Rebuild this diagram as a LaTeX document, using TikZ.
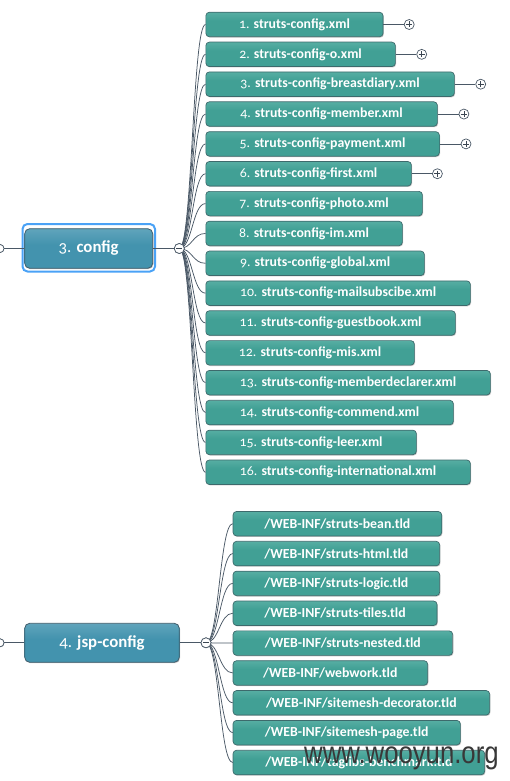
\documentclass[tikz,border=0pt]{standalone}
\usepackage{fontspec}
\setmainfont{Carlito}[Numbers=OldStyle]
\newfontfamily\wmfont{Liberation Sans}
\usetikzlibrary{shadows}
\definecolor{leafD}{HTML}{41A095}
\definecolor{leafM}{HTML}{62B5AA}
\definecolor{leafL}{HTML}{9AD4CB}
\definecolor{leafB}{HTML}{3D6A6C}
\definecolor{mainD}{HTML}{4393AE}
\definecolor{mainM}{HTML}{6AAAC0}
\definecolor{mainL}{HTML}{A4CDDB}
\definecolor{mainB}{HTML}{405C6A}
\definecolor{connC}{HTML}{4A5866}
\definecolor{hlC}{HTML}{4AA2F6}
\definecolor{wmgray}{HTML}{383838}
\pgfdeclareverticalshading{leafsh}{100bp}{color(0bp)=(leafD); color(58bp)=(leafD); color(84bp)=(leafM); color(100bp)=(leafL)}
\pgfdeclareverticalshading{mainsh}{100bp}{color(0bp)=(mainD); color(55bp)=(mainD); color(82bp)=(mainM); color(100bp)=(mainL)}
\begin{document}
\begin{tikzpicture}[x=1pt,y=-1pt,
  leaf/.style={draw=leafB, line width=0.7pt, rounded corners=3.5pt, shade, shading=leafsh,
    text=white, font=\fontsize{13.8}{15}\selectfont, minimum height=24.5pt, inner sep=0pt, anchor=west,
    drop shadow={shadow xshift=0.8pt, shadow yshift=-0.9pt, fill=black, opacity=0.22}},
  mainbox/.style={draw=mainB, line width=0.8pt, rounded corners=5pt, shade, shading=mainsh,
    text=white, font=\fontsize{16.8}{18}\selectfont, inner sep=0pt,
    drop shadow={shadow xshift=0.8pt, shadow yshift=-0.9pt, fill=black, opacity=0.22}},
  conn/.style={draw=connC, line width=0.75pt},
  pm/.style={circle, draw=connC, fill=white, line width=0.7pt, minimum size=10pt, inner sep=0pt},
  plusnode/.style={pm, path picture={
    \draw[connC!80!black, line width=0.8pt] ([xshift=2pt]path picture bounding box.west) -- ([xshift=-2pt]path picture bounding box.east);
    \draw[connC!80!black, line width=0.8pt] ([yshift=-2pt]path picture bounding box.north) -- ([yshift=2pt]path picture bounding box.south);}},
  minusnode/.style={pm, path picture={
    \draw[connC!80!black, line width=0.8pt] ([xshift=2pt]path picture bounding box.west) -- ([xshift=-2pt]path picture bounding box.east);}},
  endnode/.style={circle, draw=connC, fill=white, line width=0.7pt, minimum size=8pt, inner sep=0pt},
  fan/.style={conn}
]
\useasboundingbox (0,0) rectangle (510,781);

% ---------- config branch ----------
\draw[hlC, line width=2pt, rounded corners=5pt] (22.5,224) rectangle (155,271.5);
\node[mainbox, minimum width=128pt, minimum height=39.6pt] (cfg) at (88.7,248.5) {3. \textbf{config}};
\node[endnode] (lcfg) at (0,248.5) {};
\node[minusnode] (mcfg) at (179.3,248.5) {};

\node[leaf, minimum width=177.2pt] (c1)  at (205.5,24.50)  {1. \textbf{struts-config.xml}};
\node[leaf, minimum width=189.5pt] (c2)  at (205.5,54.35)  {2. \textbf{struts-config-o.xml}};
\node[leaf, minimum width=248.5pt] (c3)  at (205.5,84.20)  {3. \textbf{struts-config-breastdiary.xml}};
\node[leaf, minimum width=231.5pt] (c4)  at (205.5,114.05) {4. \textbf{struts-config-member.xml}};
\node[leaf, minimum width=233.5pt] (c5)  at (205.5,143.90) {5. \textbf{struts-config-payment.xml}};
\node[leaf, minimum width=205.5pt] (c6)  at (205.5,173.75) {6. \textbf{struts-config-first.xml}};
\node[leaf, minimum width=216.5pt] (c7)  at (205.5,203.60) {7. \textbf{struts-config-photo.xml}};
\node[leaf, minimum width=196.5pt] (c8)  at (205.5,233.45) {8. \textbf{struts-config-im.xml}};
\node[leaf, minimum width=218.5pt] (c9)  at (205.5,263.30) {9. \textbf{struts-config-global.xml}};
\node[leaf, minimum width=264.5pt] (c10) at (205.5,293.15) {10. \textbf{struts-config-mailsubscibe.xml}};
\node[leaf, minimum width=249.5pt] (c11) at (205.5,323.00) {11. \textbf{struts-config-guestbook.xml}};
\node[leaf, minimum width=208.5pt] (c12) at (205.5,352.85) {12. \textbf{struts-config-mis.xml}};
\node[leaf, minimum width=284.5pt] (c13) at (205.5,382.70) {13. \textbf{struts-config-memberdeclarer.xml}};
\node[leaf, minimum width=247.5pt] (c14) at (205.5,412.55) {14. \textbf{struts-config-commend.xml}};
\node[leaf, minimum width=210.5pt] (c15) at (205.5,442.40) {15. \textbf{struts-config-leer.xml}};
\node[leaf, minimum width=264.5pt] (c16) at (205.5,472.25) {16. \textbf{struts-config-international.xml}};

\foreach \n in {c1,c2,c3,c4,c5,c6,c7,c8,c9,c10,c11,c12,c13,c14,c15,c16}
  \draw[fan] (mcfg.center) .. controls +(13,0) and +(-13,0) .. (\n.west);
\draw[conn] (lcfg.east) -- (cfg.west);
\draw[conn] (cfg.east) -- (mcfg.center);
\node[endnode] at (lcfg) {};
\node[minusnode] at (mcfg) {};

\node[plusnode] (p1) at (409.2,24.50) {};
\node[plusnode] (p2) at (421.7,54.35) {};
\node[plusnode] (p3) at (480.7,84.20) {};
\node[plusnode] (p4) at (463.9,114.05) {};
\node[plusnode] (p5) at (466.0,143.90) {};
\node[plusnode] (p6) at (437.4,173.75) {};
\draw[conn] (c1.east) -- (p1.west);
\draw[conn] (c2.east) -- (p2.west);
\draw[conn] (c3.east) -- (p3.west);
\draw[conn] (c4.east) -- (p4.west);
\draw[conn] (c5.east) -- (p5.west);
\draw[conn] (c6.east) -- (p6.west);

% ---------- jsp-config branch ----------
\node[mainbox, minimum width=154.6pt, minimum height=39pt] (jsp) at (102,642.8) {4. \textbf{jsp-config}};
\node[endnode] (ljsp) at (0,642.8) {};
\node[minusnode] (mjsp) at (206,642.8) {};

\node[leaf, minimum width=208.6pt] (j1) at (232.7,523.70) {\textbf{/WEB-INF/struts-bean.tld}};
\node[leaf, minimum width=206.6pt] (j2) at (232.7,553.55) {\textbf{/WEB-INF/struts-html.tld}};
\node[leaf, minimum width=206.6pt] (j3) at (232.7,583.40) {\textbf{/WEB-INF/struts-logic.tld}};
\node[leaf, minimum width=204.0pt] (j4) at (232.7,613.25) {\textbf{/WEB-INF/struts-tiles.tld}};
\node[leaf, minimum width=219.6pt] (j5) at (232.7,643.10) {\textbf{/WEB-INF/struts-nested.tld}};
\node[leaf, minimum width=194.6pt] (j6) at (232.7,672.95) {\textbf{/WEB-INF/webwork.tld}};
\node[leaf, minimum width=256.6pt] (j7) at (232.7,702.80) {\textbf{/WEB-INF/sitemesh-decorator.tld}};
\node[leaf, minimum width=227.3pt] (j8) at (232.7,732.65) {\textbf{/WEB-INF/sitemesh-page.tld}};
\node[leaf, minimum width=251.6pt] (j9) at (232.7,762.50) {\textbf{/WEB-INF/taglibs-benchmark.tld}};

\foreach \n in {j1,j2,j3,j4,j5,j6,j7,j8,j9}
  \draw[fan] (mjsp.center) .. controls +(13,0) and +(-13,0) .. (\n.west);
\draw[conn] (ljsp.east) -- (jsp.west);
\draw[conn] (jsp.east) -- (mjsp.center);
\node[endnode] at (ljsp) {};
\node[minusnode] at (mjsp) {};

% ---------- watermark ----------
\node[anchor=base west, inner sep=0pt, text=wmgray, font=\wmfont\fontsize{31}{31}\selectfont] (wm) at (304,763.7) {\scalebox{0.83}[1]{www.wooyun.org}};
\end{tikzpicture}
\end{document}
